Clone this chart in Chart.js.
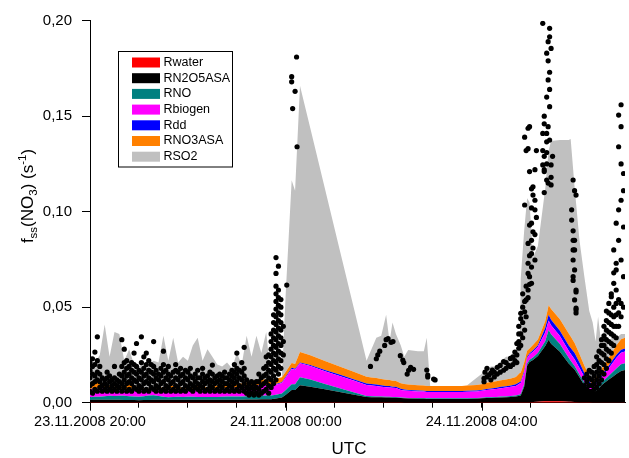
<!DOCTYPE html>
<html>
<head>
<meta charset="utf-8">
<script src="https://cdn.jsdelivr.net/npm/chart.js"></script>
<style>
  html, body { margin: 0; padding: 0; background: #fff; }
  #wrap { width: 629px; height: 458px; position: relative; }
</style>
</head>
<body>
<div id="wrap"><canvas id="chart"></canvas></div>
<script>
// time axis: hours after 23.11.2008 20:00 UTC
const times = [
  0.0, 0.1, 0.2, 0.3, 0.4, 0.5, 0.6, 0.7, 0.8, 0.9,
  1.0, 1.1, 1.2, 1.3, 1.4, 1.5, 1.6, 1.7, 1.8, 1.9,
  2.0, 2.1, 2.2, 2.3, 2.4, 2.5, 2.6, 2.7, 2.8, 2.9,
  3.0, 3.1, 3.2, 3.3, 3.4, 3.5, 3.6,
  3.7, 3.8, 3.92, 4.0, 4.12, 4.19, 4.29,
  4.5, 4.8, 5.1, 5.4, 5.65,
  5.75, 5.85, 5.95, 6.05, 6.12, 6.18, 6.25, 6.35,
  6.42, 6.5, 6.7, 6.82, 6.88, 6.95,
  7.2, 7.6, 7.7, 7.9,
  8.0, 8.1, 8.2, 8.3, 8.4, 8.5, 8.6, 8.7,
  8.78, 8.8, 8.87, 8.93, 8.98, 9.05, 9.15, 9.3, 9.37, 9.42, 9.6, 9.78, 9.82, 9.9,
  10.0, 10.1, 10.2, 10.27, 10.33, 10.38, 10.45, 10.52, 10.6, 10.68, 10.76, 10.85, 10.93
];

// stacked contributions (s^-1), bottom to top
const rWater = [
  0.0002, 0.0002, 0.0002, 0.0002, 0.0002, 0.0002, 0.0002, 0.0002, 0.0002, 0.0002,
  0.0002, 0.0002, 0.0002, 0.0002, 0.0002, 0.0002, 0.0002, 0.0002, 0.0002, 0.0002,
  0.0002, 0.0002, 0.0002, 0.0002, 0.0002, 0.0002, 0.0002, 0.0002, 0.0002, 0.0002,
  0.0002, 0.0002, 0.0002, 0.0002, 0.0002, 0.0002, 0.0002,
  0.0002, 0.0002, 0.0002, 0.0002, 0.0002, 0.0002, 0.0002,
  0.0002, 0.0002, 0.0002, 0.0002, 0.0002,
  0.0002, 0.0002, 0.0002, 0.0002, 0.0002, 0.0002, 0.0002, 0.0002,
  0.0001, 0.0001, 0.0001, 0.0001, 0.0001, 0.0001,
  0.0001, 0.0001, 0.0001, 0.0001,
  0.0002, 0.0002, 0.0002, 0.0002, 0.0002, 0.0002, 0.0002, 0.0002,
  0.0002, 0.0002, 0.0003, 0.0003, 0.0003, 0.0004, 0.0005, 0.0007, 0.0008, 0.0008, 0.0007, 0.0005, 0.0005, 0.0004,
  0.0003, 0.0002, 0.0002, 0.0001, 0.0001, 0.0001, 0.0001, 0.0001, 0.0001, 0.0001, 0.0001, 0.0001, 0.0001
];
const rN2O5 = [
  0.0012, 0.0013, 0.0013, 0.0014, 0.0014, 0.0013, 0.0013, 0.0012, 0.0012, 0.0012,
  0.0011, 0.0012, 0.0012, 0.0013, 0.0013, 0.0013, 0.0013, 0.0014, 0.0014, 0.0013,
  0.0013, 0.0013, 0.0013, 0.0013, 0.0013, 0.0013, 0.0013, 0.0013, 0.0014, 0.0014,
  0.0014, 0.0014, 0.0015, 0.0015, 0.0015, 0.0016, 0.0016,
  0.0016, 0.002, 0.0025, 0.004, 0.0065, 0.0065, 0.0089,
  0.0082, 0.0068, 0.0054, 0.004, 0.0028,
  0.0027, 0.0026, 0.0026, 0.0025, 0.0025, 0.0024, 0.0024, 0.0022,
  0.0022, 0.0021, 0.002, 0.002, 0.0019, 0.0019,
  0.0019, 0.0019, 0.0019, 0.002,
  0.0021, 0.0022, 0.0023, 0.0024, 0.0025, 0.0026, 0.0028, 0.003,
  0.0034, 0.0036, 0.008, 0.019, 0.021, 0.022, 0.024, 0.029, 0.0322, 0.030, 0.026, 0.020, 0.019, 0.017,
  0.013, 0.009, 0.006, 0.0055, 0.006, 0.007, 0.009, 0.0105, 0.012, 0.0135, 0.015, 0.0165, 0.017
];
const rNO = [
  0.0015, 0.0016, 0.0016, 0.0018, 0.0020, 0.0020, 0.0022, 0.0022, 0.0020, 0.0018,
  0.0018, 0.0020, 0.0024, 0.0024, 0.0020, 0.0016, 0.0014, 0.0014, 0.0015, 0.0015,
  0.0016, 0.0016, 0.0015, 0.0015, 0.0015, 0.0015, 0.0015, 0.0016, 0.0016, 0.0016,
  0.0016, 0.0017, 0.0017, 0.0018, 0.0018, 0.0019, 0.0020,
  0.002, 0.002, 0.0021, 0.0025, 0.003, 0.003, 0.0042,
  0.0037, 0.0028, 0.002, 0.0012, 0.0005,
  0.0005, 0.0005, 0.0004, 0.0004, 0.0004, 0.0004, 0.0004, 0.0003,
  0.0003, 0.0003, 0.0003, 0.0003, 0.0003, 0.0003,
  0.0003, 0.0003, 0.0003, 0.0003,
  0.0003, 0.0004, 0.0004, 0.0004, 0.0005, 0.0005, 0.0005, 0.0006,
  0.0007, 0.0007, 0.0012, 0.0012, 0.0012, 0.0013, 0.0015, 0.0025, 0.005, 0.005, 0.004, 0.003, 0.0025, 0.0018,
  0.0015, 0.0012, 0.001, 0.0008, 0.0009, 0.001, 0.0012, 0.0015, 0.002, 0.0025, 0.003, 0.0035, 0.0035
];
const rBiogen = [
  0.0040, 0.0042, 0.0045, 0.0040, 0.0035, 0.0030, 0.0025, 0.0025, 0.0028, 0.0030,
  0.0030, 0.0028, 0.0022, 0.0022, 0.0026, 0.0032, 0.0036, 0.0038, 0.0035, 0.0030,
  0.0030, 0.0034, 0.0036, 0.0038, 0.0034, 0.0036, 0.0040, 0.0042, 0.0040, 0.0042,
  0.0045, 0.0046, 0.0048, 0.0050, 0.0052, 0.0054, 0.0052,
  0.005, 0.0052, 0.0055, 0.0065, 0.008, 0.0075, 0.0073,
  0.0071, 0.0067, 0.0064, 0.0061, 0.0058,
  0.0056, 0.0054, 0.0052, 0.005, 0.0049, 0.0048, 0.0047, 0.004,
  0.0038, 0.0037, 0.0035, 0.0034, 0.0033, 0.0033,
  0.0033, 0.0033, 0.0034, 0.0035,
  0.0036, 0.0038, 0.004, 0.0042, 0.0044, 0.0046, 0.0048, 0.005,
  0.0058, 0.0058, 0.0062, 0.0028, 0.0028, 0.003, 0.0033, 0.0045, 0.005, 0.0048, 0.0042, 0.0037, 0.0036, 0.0036,
  0.0034, 0.003, 0.0025, 0.0022, 0.0025, 0.0028, 0.003, 0.0035, 0.004, 0.0048, 0.0055, 0.006, 0.0062
];
const rDd = [
  0.0003, 0.0003, 0.0003, 0.0003, 0.0003, 0.0003, 0.0003, 0.0003, 0.0003, 0.0003,
  0.0003, 0.0003, 0.0003, 0.0003, 0.0003, 0.0003, 0.0003, 0.0003, 0.0003, 0.0003,
  0.0003, 0.0003, 0.0003, 0.0003, 0.0003, 0.0003, 0.0003, 0.0003, 0.0003, 0.0003,
  0.0003, 0.0003, 0.0003, 0.0003, 0.0003, 0.0003, 0.0003,
  0.0004, 0.0004, 0.0004, 0.0005, 0.0006, 0.0006, 0.0005,
  0.0005, 0.0006, 0.0007, 0.0007, 0.0008,
  0.0008, 0.0008, 0.0007, 0.0007, 0.0007, 0.0006, 0.0006, 0.0006,
  0.0005, 0.0005, 0.0005, 0.0005, 0.0005, 0.0005,
  0.0005, 0.0005, 0.0005, 0.0005,
  0.0005, 0.0006, 0.0006, 0.0006, 0.0007, 0.0007, 0.0007, 0.0008,
  0.0008, 0.0008, 0.0009, 0.0007, 0.0006, 0.0007, 0.0008, 0.0025, 0.003, 0.0028, 0.0028, 0.0028, 0.003, 0.0032,
  0.0028, 0.0022, 0.0015, 0.0008, 0.0008, 0.0009, 0.001, 0.0012, 0.0014, 0.0016, 0.0016, 0.0016, 0.0016
];
const rNO3 = [
  0.0015, 0.0035, 0.0030, 0.0020, 0.0015, 0.0015, 0.0018, 0.0028, 0.0030, 0.0025,
  0.0015, 0.0012, 0.0012, 0.0012, 0.0013, 0.0015, 0.0020, 0.0018, 0.0015, 0.0015,
  0.0016, 0.0016, 0.0018, 0.0015, 0.0014, 0.0015, 0.0016, 0.0016, 0.0018, 0.0020,
  0.0022, 0.0018, 0.0022, 0.0026, 0.0028, 0.0028, 0.0028,
  0.0028, 0.0027, 0.0026, 0.0025, 0.0025, 0.0024, 0.0054,
  0.0051, 0.0047, 0.0043, 0.0039, 0.0035,
  0.0034, 0.0034, 0.0033, 0.0032, 0.0032, 0.0031, 0.0031, 0.0029,
  0.0029, 0.0028, 0.0028, 0.0027, 0.0027, 0.0027,
  0.0027, 0.0027, 0.0028, 0.0029,
  0.003, 0.0032, 0.0033, 0.0034, 0.0035, 0.0036, 0.0037, 0.0038,
  0.0046, 0.0046, 0.0045, 0.0032, 0.0025, 0.0028, 0.003, 0.0035, 0.005, 0.0056, 0.006, 0.0062, 0.006, 0.0052,
  0.0045, 0.0038, 0.003, 0.0025, 0.0027, 0.003, 0.0033, 0.0036, 0.004, 0.0045, 0.005, 0.0055, 0.0056
];
const rSO2 = [
  0.0133, 0.0099, 0.0141, 0.0313, 0.0151, 0.0287, 0.0277, 0.0128, 0.0185, 0.0110,
  0.0111, 0.0133, 0.0125, 0.0144, 0.0133, 0.0269, 0.0132, 0.0251, 0.0126, 0.0162,
  0.0140, 0.0216, 0.0253, 0.0134, 0.0199, 0.0156, 0.0111, 0.0098, 0.0117, 0.0083,
  0.0158, 0.0100, 0.0243, 0.0126, 0.0232, 0.0138, 0.0249,
  0, 0, 0, 0.0418, 0.0957, 0.0908, 0.1395,
  0.119, 0.0902, 0.0612, 0.0324, 0.0084,
  0.0148, 0.0211, 0.0226, 0.034, 0.0201, 0.0305, 0.0246, 0.0198,
  0.0142, 0.0181, 0.0178, 0.018, 0.0252, 0,
  0, 0, 0, 0.0037,
  0.0053, 0.0076, 0.0082, 0.0078, 0.0102, 0.0118, 0.0113, 0.0126,
  0.0125, 0.0493, 0.0689, 0.0798, 0.0766, 0.0458, 0.0489, 0.0693, 0.081, 0.088, 0.0938, 0.1013, 0.1034, 0.0818,
  0.0595, 0.0466, 0.0338, 0.0301, 0.019, 0.0302, 0.0124, 0.0216, 0.0045, 0.01, 0.0038, 0.0028, 0.002
];

const seriesNames = ['Rwater', 'RN2O5ASA', 'RNO', 'Rbiogen', 'Rdd', 'RNO3ASA', 'RSO2'];
const seriesColors = ['#ff0000', '#000000', '#008080', '#ff00ff', '#0000ff', '#ff8000', '#c0c0c0'];
const seriesValues = [rWater, rN2O5, rNO, rBiogen, rDd, rNO3, rSO2];

// measured f_ss(NO3): sample times and the values read at each time
const obsTimes = [
  0.00, 0.05, 0.10, 0.15, 0.20, 0.25, 0.30, 0.35, 0.40, 0.45,
  0.50, 0.55, 0.60, 0.65, 0.70, 0.75, 0.80, 0.85, 0.90, 0.95,
  1.00, 1.05, 1.10, 1.15, 1.20, 1.25, 1.30, 1.35, 1.40, 1.45,
  1.50, 1.55, 1.60, 1.65, 1.70, 1.75, 1.80, 1.85, 1.90, 1.95,
  2.00, 2.05, 2.10, 2.15, 2.20, 2.25, 2.30, 2.35, 2.40, 2.45,
  2.50, 2.55, 2.60, 2.65, 2.70, 2.75, 2.80, 2.85, 2.90, 2.95,
  3.00, 3.05, 3.10, 3.15, 3.20, 3.25, 3.30, 3.35, 3.40, 3.45,
  3.50, 3.55, 3.60, 3.65, 3.70, 3.75, 3.80, 3.85, 3.90, 3.95,
  4.02, 4.12, 4.14, 4.19, 4.22, 4.23,
  5.73, 5.85, 5.88, 5.92, 6.02, 6.05, 6.09, 6.15, 6.19, 6.34,
  6.39, 6.41, 6.48, 6.51, 6.55, 6.61, 6.88, 6.90, 7.02, 7.05,
  8.05, 8.07, 8.11, 8.15, 8.19, 8.22, 8.26, 8.32, 8.38, 8.45,
  8.50, 8.55, 8.59, 8.64, 8.68, 8.72,
  8.76, 8.80, 8.84, 8.88, 8.91, 8.95, 8.98, 9.02, 9.05, 9.09,
  9.12, 9.25, 9.28, 9.33, 9.36, 9.39, 9.42, 9.45,
  9.84, 9.87, 9.90, 9.93,
  10.10, 10.15, 10.20, 10.25, 10.30, 10.35, 10.40, 10.45, 10.50, 10.55,
  10.60, 10.65, 10.70, 10.75, 10.80, 10.85, 10.90
];
const obsValues = [
  [0.006, 0.009, 0.013, 0.017, 0.021], [0.005, 0.010, 0.015, 0.019, 0.023], [0.007, 0.011, 0.014, 0.020, 0.0265],
  [0.006, 0.012, 0.016, 0.022, 0.0345], [0.008, 0.011, 0.015, 0.019], [0.006, 0.009, 0.013],
  [0.007, 0.010, 0.012], [0.006, 0.009, 0.013, 0.016], [0.007, 0.011, 0.014], [0.006, 0.009, 0.012],
  [0.007, 0.010, 0.013, 0.019], [0.006, 0.009, 0.012], [0.008, 0.011, 0.015],
  [0.006, 0.010, 0.014, 0.019, 0.033], [0.008, 0.012, 0.016, 0.021, 0.028], [0.006, 0.010, 0.014, 0.018, 0.022],
  [0.007, 0.011, 0.015, 0.019], [0.006, 0.010, 0.013, 0.017, 0.021], [0.008, 0.012, 0.016, 0.020, 0.026],
  [0.007, 0.011, 0.015, 0.019, 0.031],
  [0.006, 0.009, 0.013, 0.017], [0.008, 0.012, 0.016, 0.021, 0.0345], [0.006, 0.010, 0.014, 0.018, 0.024],
  [0.007, 0.011, 0.015, 0.020, 0.026], [0.006, 0.010, 0.013, 0.017, 0.022], [0.008, 0.012, 0.016, 0.020],
  [0.007, 0.011, 0.015, 0.019, 0.032], [0.006, 0.009, 0.013, 0.017], [0.008, 0.012, 0.015],
  [0.006, 0.010, 0.014, 0.018],
  [0.007, 0.011, 0.016, 0.020, 0.027], [0.006, 0.009, 0.013, 0.017], [0.008, 0.012, 0.015, 0.019],
  [0.006, 0.010, 0.014], [0.007, 0.011, 0.016], [0.006, 0.009, 0.013, 0.017, 0.020], [0.008, 0.012, 0.016],
  [0.006, 0.010, 0.014, 0.018], [0.007, 0.011, 0.015], [0.006, 0.009, 0.013, 0.017],
  [0.008, 0.012, 0.016], [0.007, 0.010, 0.014, 0.018], [0.006, 0.009, 0.013], [0.008, 0.011, 0.015],
  [0.007, 0.010, 0.013, 0.017], [0.006, 0.009, 0.013], [0.008, 0.011, 0.015, 0.018], [0.006, 0.010, 0.013],
  [0.007, 0.011, 0.014], [0.006, 0.009, 0.012, 0.016],
  [0.008, 0.011, 0.015, 0.0197], [0.006, 0.010, 0.013], [0.007, 0.011, 0.014], [0.006, 0.009, 0.012, 0.015],
  [0.008, 0.011, 0.014], [0.006, 0.010, 0.013, 0.016], [0.007, 0.010, 0.013], [0.006, 0.009, 0.012, 0.015],
  [0.008, 0.011, 0.014, 0.017], [0.006, 0.010, 0.013, 0.016, 0.020],
  [0.007, 0.011, 0.015, 0.018, 0.026], [0.006, 0.009, 0.013, 0.017], [0.008, 0.012, 0.016, 0.021],
  [0.006, 0.010, 0.014, 0.018, 0.029], [0.005, 0.008, 0.012], [0.004, 0.007, 0.010], [0.005, 0.008, 0.011],
  [0.004, 0.007, 0.010], [0.005, 0.008, 0.011], [0.004, 0.007, 0.011, 0.015],
  [0.005, 0.009, 0.013], [0.006, 0.010, 0.014, 0.018], [0.007, 0.011, 0.015, 0.019, 0.024],
  [0.005, 0.009, 0.013, 0.017, 0.021, 0.025],
  [0.008, 0.012, 0.016, 0.020, 0.024, 0.028, 0.032, 0.036],
  [0.010, 0.014, 0.018, 0.022, 0.026, 0.030, 0.034, 0.038, 0.042, 0.046],
  [0.012, 0.017, 0.021, 0.025, 0.029, 0.033, 0.037, 0.041, 0.045, 0.049, 0.053, 0.057, 0.061, 0.0677, 0.076],
  [0.015, 0.019, 0.023, 0.027, 0.031, 0.035, 0.039, 0.043, 0.047, 0.051, 0.055, 0.059, 0.0715],
  [0.018, 0.022, 0.026, 0.030, 0.034, 0.038, 0.042, 0.046, 0.050, 0.054],
  [0.025, 0.032, 0.040],
  [0.0616], [0.1707, 0.168], [0.154], [0.163], [0.181], [0.134],
  [0.019], [0.023], [0.025], [0.027], [0.030], [0.033], [0.0335], [0.0316], [0.032], [0.0246],
  [0.0223], [0.021], [0.015], [0.017], [0.0185], [0.0175], [0.0171], [0.0145, 0.0135], [0.0124], [0.0119],
  [0.0128, 0.0110], [0.016], [0.018, 0.0135], [0.0145], [0.0155, 0.012], [0.0171], [0.0135, 0.016],
  [0.0185, 0.015], [0.016, 0.0195], [0.0215, 0.017],
  [0.018, 0.021], [0.0195], [0.0232, 0.019], [0.020, 0.024], [0.022, 0.0265], [0.025, 0.021, 0.031],
  [0.0285, 0.032, 0.040, 0.036], [0.030, 0.036, 0.044, 0.0468], [0.034, 0.042, 0.050, 0.057],
  [0.038, 0.0476, 0.053, 0.1035, 0.139], [0.045, 0.0538, 0.061, 0.132],
  [0.055, 0.059, 0.0677, 0.073, 0.0834, 0.133, 0.1437], [0.062, 0.066, 0.077, 0.093, 0.121, 0.1445],
  [0.0625, 0.071, 0.078, 0.085, 0.094, 0.102, 0.112], [0.081, 0.0895, 0.1087, 0.113],
  [0.0747, 0.088, 0.101, 0.106, 0.122],
  [0.097, 0.132], [0.1986, 0.141, 0.132, 0.1245], [0.150, 0.146, 0.129, 0.122, 0.121, 0.110],
  [0.183, 0.160, 0.141, 0.1366, 0.131, 0.125, 0.1166], [0.189, 0.179, 0.169, 0.1445, 0.115],
  [0.196, 0.1916, 0.173, 0.164, 0.155, 0.1375], [0.1855, 0.1245, 0.118, 0.114], [0.129],
  [0.101, 0.0956], [0.1166, 0.090, 0.085, 0.080, 0.0747, 0.066, 0.064],
  [0.111, 0.085, 0.080, 0.0695, 0.0538], [0.1087, 0.059, 0.058, 0.0495, 0.0485, 0.047],
  [0.009, 0.013], [0.007, 0.011, 0.015], [0.006, 0.009, 0.013, 0.017], [0.006, 0.009, 0.012, 0.016],
  [0.007, 0.010, 0.014, 0.019], [0.008, 0.012, 0.016, 0.020, 0.024], [0.010, 0.014, 0.018, 0.022, 0.027],
  [0.012, 0.016, 0.021, 0.026, 0.030, 0.033], [0.015, 0.020, 0.025, 0.030, 0.035, 0.040],
  [0.018, 0.023, 0.028, 0.033, 0.038, 0.043, 0.048],
  [0.022, 0.027, 0.032, 0.037, 0.042, 0.047, 0.052], [0.026, 0.031, 0.036, 0.041, 0.046, 0.0555, 0.057],
  [0.030, 0.035, 0.040, 0.045, 0.050, 0.0625, 0.068, 0.080], [0.034, 0.040, 0.046, 0.052, 0.059, 0.0695, 0.073, 0.094],
  [0.040, 0.047, 0.054, 0.085, 0.101, 0.134, 0.1506], [0.045, 0.052, 0.0747, 0.106, 0.125, 0.1445, 0.156],
  [0.050, 0.066, 0.092, 0.111, 0.120]
];

const xTickHours = [0, 4, 8];
const xTickText = ['23.11.2008 20:00', '24.11.2008 00:00', '24.11.2008 04:00'];
const xMax = 10.93;

const FONT = '"Liberation Sans", Arial, sans-serif';
Chart.defaults.font.family = FONT;
Chart.defaults.color = '#000';

const obsPoints = [];
obsTimes.forEach((t, i) => obsValues[i].forEach(v => obsPoints.push({ x: t, y: v })));

const datasets = [{
  label: 'fss',
  data: obsPoints,
  stack: 'obs',
  showLine: false,
  pointRadius: 2.6,
  pointBorderWidth: 0,
  pointBackgroundColor: '#000',
  backgroundColor: '#000',
  borderColor: '#000',
  fill: false
}];
seriesNames.forEach((name, i) => {
  datasets.push({
    label: name,
    data: times.map((t, j) => ({ x: t, y: seriesValues[i][j] })),
    stack: 'budget',
    backgroundColor: seriesColors[i],
    borderColor: seriesColors[i],
    borderWidth: 0,
    pointRadius: 0,
    tension: 0,
    fill: i === 0 ? 'origin' : '-1'
  });
});

const decorations = {
  id: 'decorations',
  afterDraw(chart) {
    const ctx = chart.ctx;
    const xs = chart.scales.x;
    ctx.save();
    ctx.fillStyle = '#000';

    // longer marks for the labelled hours
    ctx.strokeStyle = '#000';
    ctx.lineWidth = 1;
    xTickHours.forEach(h => {
      const px = Math.round(xs.getPixelForValue(h)) + 0.5;
      ctx.beginPath();
      ctx.moveTo(px, chart.chartArea.bottom);
      ctx.lineTo(px, chart.chartArea.bottom + 8);
      ctx.stroke();
    });

    // x axis title
    ctx.font = '17px ' + FONT;
    ctx.textAlign = 'center';
    ctx.textBaseline = 'middle';
    ctx.fillText('UTC', 349, 449);

    // y axis title with sub/superscripts
    const parts = [['f', 0], ['ss', 1], ['(NO', 0], ['3', 1], [') (s', 0], ['-1', -1], [')', 0]];
    const big = '17px ' + FONT, small = '11.5px ' + FONT;
    let total = 0;
    parts.forEach(p => { ctx.font = p[1] ? small : big; total += ctx.measureText(p[0]).width; });
    ctx.translate(33, 196);
    ctx.rotate(-Math.PI / 2);
    ctx.textAlign = 'left';
    ctx.textBaseline = 'alphabetic';
    let x = -total / 2;
    parts.forEach(p => {
      ctx.font = p[1] ? small : big;
      const dy = p[1] === 1 ? 4 : (p[1] === -1 ? -7 : 0);
      ctx.fillText(p[0], x, dy);
      x += ctx.measureText(p[0]).width;
    });
    ctx.restore();

    // legend box
    ctx.save();
    ctx.fillStyle = '#fff';
    ctx.fillRect(118.5, 51.5, 114, 115.5);
    ctx.strokeStyle = '#000';
    ctx.lineWidth = 1;
    ctx.strokeRect(118.5, 51.5, 114, 115.5);
    ctx.font = '12.5px ' + FONT;
    ctx.textBaseline = 'middle';
    ctx.textAlign = 'left';
    chart.data.datasets.slice(1).forEach((ds, i) => {
      const cy = 62.5 + i * 15.7;
      ctx.fillStyle = ds.backgroundColor;
      ctx.fillRect(132, cy - 5, 28, 10);
      ctx.fillStyle = '#000';
      ctx.fillText(ds.label, 163.5, cy);
    });
    ctx.restore();
  }
};

new Chart(document.getElementById('chart'), {
  type: 'line',
  data: { datasets },
  options: {
    responsive: true,
    maintainAspectRatio: false,
    animation: false,
    layout: { padding: { top: 20.7, right: 0, bottom: 0, left: 0 } },
    plugins: {
      legend: { display: false },
      tooltip: { enabled: false },
      filler: { propagate: false }
    },
    scales: {
      x: {
        type: 'linear',
        min: 0,
        max: xMax,
        afterFit: s => { s.height = 55.3; },
        afterBuildTicks: s => {
          s.ticks = s.ticks.filter(t => Math.abs(t.value - Math.round(t.value)) < 1e-6);
        },
        ticks: {
          stepSize: 1,
          autoSkip: false,
          maxRotation: 0,
          minRotation: 0,
          padding: 6,
          color: '#000',
          font: { size: 14.5 },
          callback: v => {
            const k = xTickHours.indexOf(Math.round(v));
            return k >= 0 ? xTickText[k] : '';
          }
        },
        grid: { drawOnChartArea: false, drawTicks: true, tickLength: 5, color: '#000' },
        border: { display: true, color: '#000', width: 1 }
      },
      y: {
        stacked: true,
        min: 0,
        max: 0.2,
        afterFit: s => { s.width = 90; },
        ticks: {
          stepSize: 0.05,
          padding: 10,
          color: '#000',
          font: { size: 15 },
          callback: v => v.toFixed(2).replace('.', ',')
        },
        grid: { drawOnChartArea: false, drawTicks: true, tickLength: 8, color: '#000' },
        border: { display: true, color: '#000', width: 1 }
      }
    }
  },
  plugins: [decorations]
});
</script>
</body>
</html>
